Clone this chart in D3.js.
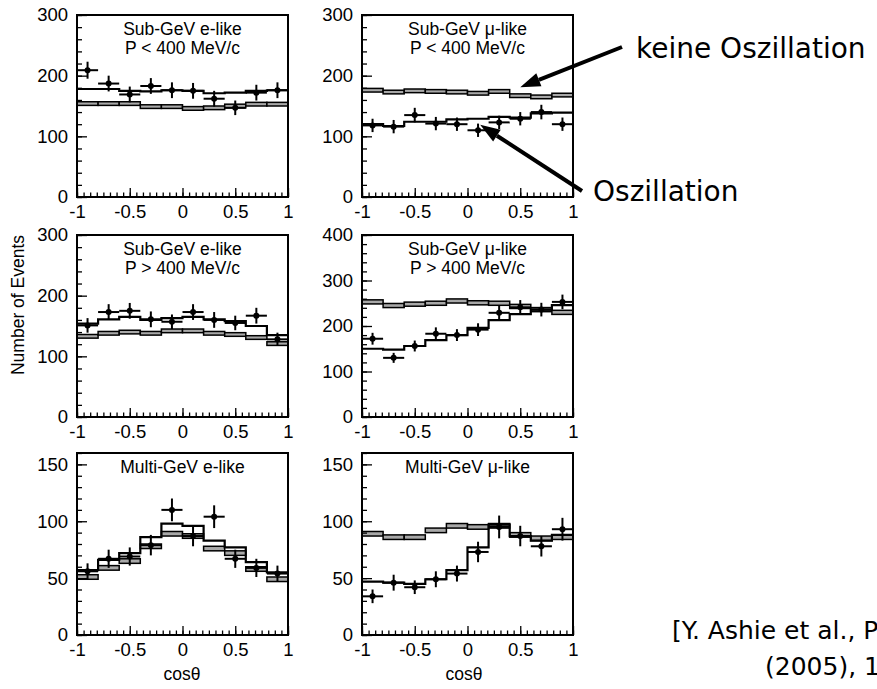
<!DOCTYPE html>
<html>
<head>
<meta charset="utf-8">
<script src="https://cdn.jsdelivr.net/npm/d3@7"></script>
<style>
  body { margin: 0; background: #fff; }
  svg { display: block; }
  .tick text { font-family: "Liberation Sans", Arial, sans-serif; font-size: 18.5px; fill: #000; }
  .tick line { stroke: #000; stroke-width: 1.3; }
</style>
</head>
<body>
<svg id="plot" width="877" height="689"></svg>
<script>
// zenith angle bins (cos theta)
var binEdges = [-1, -0.8, -0.6, -0.4, -0.2, 0, 0.2, 0.4, 0.6, 0.8, 1];
var binCenters = [-0.9, -0.7, -0.5, -0.3, -0.1, 0.1, 0.3, 0.5, 0.7, 0.9];
var xTicks = [-1, -0.5, 0, 0.5, 1];
var xTickLabels = ["-1", "-0.5", "0", "0.5", "1"];

// panel titles
var titles = [
  ["Sub-GeV e-like", "P < 400 MeV/c"],
  ["Sub-GeV \u03bc-like", "P < 400 MeV/c"],
  ["Sub-GeV e-like", "P > 400 MeV/c"],
  ["Sub-GeV \u03bc-like", "P > 400 MeV/c"],
  ["Multi-GeV e-like"],
  ["Multi-GeV \u03bc-like"]
];
var yMax = [300, 300, 300, 400, 160, 160];
var yTicks = [
  [0, 100, 200, 300],
  [0, 100, 200, 300],
  [0, 100, 200, 300],
  [0, 100, 200, 300, 400],
  [0, 50, 100, 150],
  [0, 50, 100, 150]
];
var yMinorStep = [20, 20, 20, 20, 10, 10];

// measured events and errors
var data1 = [209, 187, 169, 183, 176, 175, 162, 147, 172, 176];
var err1  = [14, 13, 13, 13, 13, 13, 13, 12, 13, 13];
var data2 = [118, 116, 135, 121, 120, 110, 123, 129, 140, 120];
var err2  = [11, 11, 12, 11, 11, 11, 11, 11, 12, 11];
var data3 = [151, 173, 175, 161, 157, 173, 160, 155, 167, 128];
var err3  = [12, 13, 13, 13, 12, 13, 13, 12, 13, 11];
var data4 = [172, 130, 156, 183, 180, 192, 229, 241, 236, 253];
var err4  = [13, 11, 12, 14, 13, 14, 15, 16, 15, 16];
var data5 = [56, 67, 69, 79, 110, 87, 104, 67, 59, 54];
var err5  = [7, 8, 8, 9, 10, 9, 10, 8, 8, 7];
var data6 = [34, 46, 42, 49, 54, 73, 95, 87, 78, 93];
var err6  = [6, 7, 6, 7, 7, 9, 10, 9, 9, 10];

// MC without oscillation (boxes) and best fit with oscillation (line)
var noOsc1 = [154, 154, 154, 149, 149, 146, 147, 150, 153, 153];
var noOsc2 = [176, 173, 175, 174, 173, 171, 174, 167, 165, 168];
var noOsc3 = [133, 138, 140, 138, 142, 142, 138, 136, 131, 121];
var noOsc4 = [253, 245, 248, 250, 255, 251, 250, 243, 236, 230];
var noOsc5 = [51, 59, 65, 78, 89, 87, 76, 72, 58, 49];
var noOsc6 = [89, 86, 86, 92, 96, 95, 96, 88, 85, 86];
var mcErr  = [3, 3, 3, 4.5, 2, 2];

var best1 = [178, 178, 175, 174, 176, 175, 171, 172, 175, 176];
var best2 = [120, 117, 124, 124, 128, 129, 132, 131, 138, 139];
var best3 = [154, 161, 165, 160, 163, 165, 161, 158, 150, 135];
var best4 = [150, 148, 156, 169, 180, 196, 213, 226, 236, 246];
var best5 = [57, 66, 72, 86, 98, 96, 83, 77, 64, 55];
var best6 = [47, 46, 45, 49, 57, 77, 97, 87, 83, 88];

var panels = [
  { data: data1, err: err1, noOsc: noOsc1, best: best1 },
  { data: data2, err: err2, noOsc: noOsc2, best: best2 },
  { data: data3, err: err3, noOsc: noOsc3, best: best3 },
  { data: data4, err: err4, noOsc: noOsc4, best: best4 },
  { data: data5, err: err5, noOsc: noOsc5, best: best5 },
  { data: data6, err: err6, noOsc: noOsc6, best: best6 }
];

// layout
var colX = [77, 362];
var rowY = [15, 235, 453];
var pw = 211;
var ph = 182;
var font = '"Liberation Sans", Arial, sans-serif';
var handFont = '"Comic Sans MS", "DejaVu Sans", sans-serif';

var svg = d3.select('#plot');
var scales = [];

panels.forEach(function(p, i) {
  var x0 = colX[i % 2];
  var y0 = rowY[Math.floor(i / 2)];
  var g = svg.append('g').attr('transform', 'translate(' + x0 + ',' + y0 + ')');

  var x = d3.scaleLinear().domain([-1, 1]).range([0, pw]);
  var y = d3.scaleLinear().domain([0, yMax[i]]).range([ph, 0]);
  scales.push({ x: x, y: y, x0: x0, y0: y0 });

  // no-oscillation boxes
  g.selectAll('rect.box')
    .data(p.noOsc)
    .enter()
    .append('rect')
    .attr('class', 'box')
    .attr('x', (d, j) => x(binEdges[j]))
    .attr('width', (d, j) => x(binEdges[j + 1]) - x(binEdges[j]))
    .attr('y', (d) => y(d + mcErr[i]))
    .attr('height', (d) => y(d - mcErr[i]) - y(d + mcErr[i]))
    .attr('fill', '#a8a8a8')
    .attr('stroke', '#000')
    .attr('stroke-width', 1.5);

  // best fit step line
  var stepPts = p.best.map((d, j) => [binEdges[j], d]);
  stepPts.push([1, p.best[p.best.length - 1]]);
  var step = d3.line()
    .x((d) => x(d[0]))
    .y((d) => y(d[1]))
    .curve(d3.curveStepAfter);
  g.append('path')
    .attr('d', step(stepPts))
    .attr('fill', 'none')
    .attr('stroke', '#000')
    .attr('stroke-width', 2.2);

  // data points with error bars
  var pts = g.selectAll('g.pt')
    .data(p.data)
    .enter()
    .append('g')
    .attr('class', 'pt');
  pts.append('line')
    .attr('x1', (d, j) => x(binCenters[j] - 0.1))
    .attr('x2', (d, j) => x(binCenters[j] + 0.1))
    .attr('y1', (d) => y(d))
    .attr('y2', (d) => y(d))
    .attr('stroke', '#000')
    .attr('stroke-width', 2);
  pts.append('line')
    .attr('x1', (d, j) => x(binCenters[j]))
    .attr('x2', (d, j) => x(binCenters[j]))
    .attr('y1', (d, j) => y(d - p.err[j]))
    .attr('y2', (d, j) => y(d + p.err[j]))
    .attr('stroke', '#000')
    .attr('stroke-width', 2);
  pts.append('circle')
    .attr('cx', (d, j) => x(binCenters[j]))
    .attr('cy', (d) => y(d))
    .attr('r', 3)
    .attr('fill', '#000');

  // axes, ticks pointing inward
  g.append('g')
    .attr('transform', 'translate(0,' + ph + ')')
    .call(d3.axisBottom(x).tickValues(d3.range(-1, 1.0001, 0.0625)).tickSize(-4.5).tickFormat(''))
    .call((a) => a.select('.domain').remove());
  g.append('g')
    .attr('transform', 'translate(0,' + ph + ')')
    .call(d3.axisBottom(x).tickValues(xTicks).tickSize(-9).tickPadding(8)
      .tickFormat((d, k) => xTickLabels[k]))
    .call((a) => a.select('.domain').remove());
  g.append('g')
    .call(d3.axisLeft(y).tickValues(d3.range(0, yMax[i] + 0.001, yMinorStep[i])).tickSize(-5).tickFormat(''))
    .call((a) => a.select('.domain').remove());
  g.append('g')
    .call(d3.axisLeft(y).tickValues(yTicks[i]).tickSize(-10).tickPadding(9).tickFormat(d3.format('d')))
    .call((a) => a.select('.domain').remove());

  // frame
  g.append('rect')
    .attr('width', pw)
    .attr('height', ph)
    .attr('fill', 'none')
    .attr('stroke', '#000')
    .attr('stroke-width', 2);

  // panel title
  titles[i].forEach(function(t, k) {
    g.append('text')
      .attr('x', pw / 2)
      .attr('y', 20 + k * 19)
      .attr('text-anchor', 'middle')
      .attr('font-family', font)
      .attr('font-size', 17.5)
      .text(t);
  });
});

// axis titles
svg.append('text')
  .attr('transform', 'translate(24,305) rotate(-90)')
  .attr('text-anchor', 'middle')
  .attr('font-family', font)
  .attr('font-size', 17.5)
  .text('Number of Events');
[182, 464].forEach(function(cx) {
  svg.append('text')
    .attr('x', cx)
    .attr('y', 680)
    .attr('text-anchor', 'middle')
    .attr('font-family', font)
    .attr('font-size', 17.5)
    .text('cos\u03b8');
});

// annotations pointing into the Sub-GeV mu-like panel
var notes = [
  { text: 'keine Oszillation', tx: 636, ty: 58, from: [622, 47], tip: [0.5, 181] },
  { text: 'Oszillation', tx: 593, ty: 201, from: [582, 191], tip: [0.12, 119] }
];
var s2 = scales[1];
notes.forEach(function(n) {
  var tx = s2.x0 + s2.x(n.tip[0]);
  var ty = s2.y0 + s2.y(n.tip[1]);
  var dx = n.from[0] - tx, dy = n.from[1] - ty;
  var len = Math.sqrt(dx * dx + dy * dy);
  var ux = dx / len, uy = dy / len;
  var hl = 20, hw = 7;
  var bx = tx + ux * hl, by = ty + uy * hl;
  svg.append('line')
    .attr('x1', n.from[0]).attr('y1', n.from[1])
    .attr('x2', bx).attr('y2', by)
    .attr('stroke', '#000')
    .attr('stroke-width', 4);
  svg.append('polygon')
    .attr('points', [
      [tx, ty],
      [bx - uy * hw, by + ux * hw],
      [bx + uy * hw, by - ux * hw]
    ].map((q) => q.join(',')).join(' '))
    .attr('fill', '#000');
  svg.append('text')
    .attr('x', n.tx)
    .attr('y', n.ty)
    .attr('font-family', handFont)
    .attr('font-size', 28)
    .text(n.text);
});

// citation (runs off the right edge as in the original slide)
svg.append('text')
  .attr('x', 672)
  .attr('y', 639)
  .attr('font-family', handFont)
  .attr('font-size', 25)
  .text('[Y. Ashie et al., Phys. Rev. D 71');
svg.append('text')
  .attr('x', 765)
  .attr('y', 675)
  .attr('font-family', handFont)
  .attr('font-size', 25)
  .text('(2005), 112005]');
</script>
</body>
</html>
